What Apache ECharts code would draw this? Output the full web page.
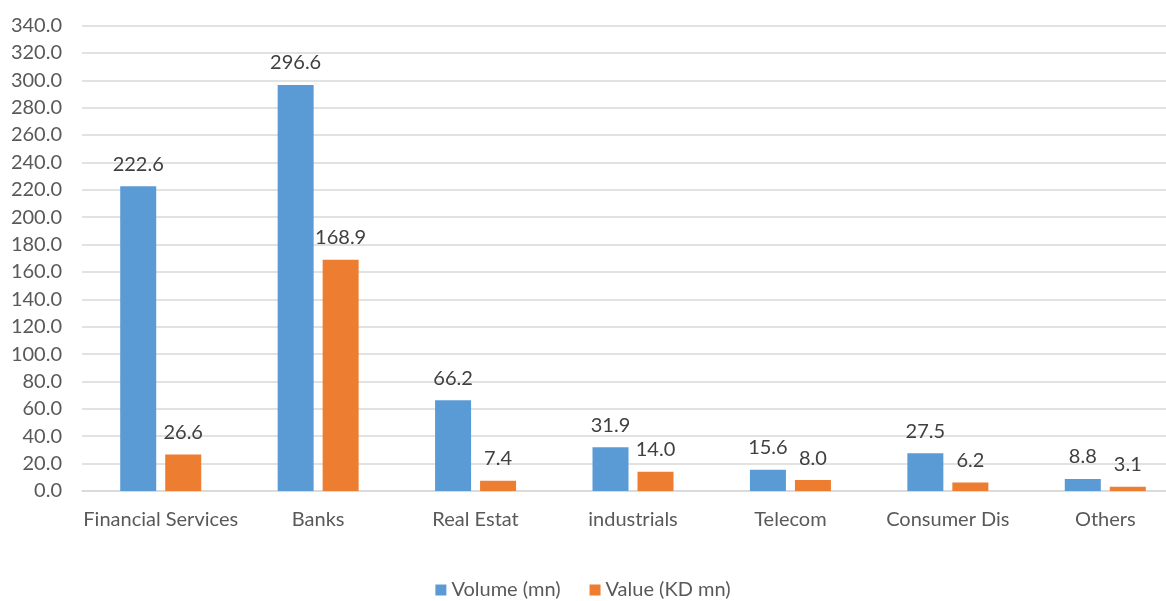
<!DOCTYPE html>
<html><head><meta charset="utf-8">
<script src="https://cdn.jsdelivr.net/npm/echarts@6/dist/echarts.min.js"></script>
<style>html,body{margin:0;padding:0;background:#fff;}#c{width:1166px;height:601px;}</style>
</head><body><div id="c"></div>
<script>
const categories = ["Financial Services","Banks","Real Estat","industrials","Telecom","Consumer Dis","Others"];
const volume = [222.6,296.6,66.2,31.9,15.6,27.5,8.8];
const value = [26.6,168.9,7.4,14.0,8.0,6.2,3.1];
const seriesNames = ["Volume (mn)","Value (KD mn)"];
const font = "Lato, 'Open Sans', sans-serif";
const fs = 20;
const chart = echarts.init(document.getElementById('c'));
const lbl = {show:true, position:'top', distance:12, color:'#404040', fontSize:fs, fontFamily:font, formatter: p => p.value.toFixed(1)};
chart.setOption({
  animation:false,
  textStyle:{fontFamily:font},
  grid:{left:82, width:1102, top:25.5, height:465.5, containLabel:false, outerBoundsMode:'none'},
  legend:{top:575, left:'center', itemWidth:11, itemHeight:11, itemGap:29, icon:'rect',
    textStyle:{color:'#595959', fontSize:fs, fontFamily:font}},
  xAxis:{type:'category', data:categories, axisTick:{show:false},
    axisLine:{lineStyle:{color:'#d9d9d9', width:1.5}},
    axisLabel:{color:'#595959', fontSize:fs, fontFamily:font, margin:19, interval:0}},
  yAxis:{type:'value', min:0, max:340, interval:20,
    axisLine:{show:false}, axisTick:{show:false},
    splitLine:{lineStyle:{color:'#d9d9d9', width:1.5}},
    axisLabel:{color:'#595959', fontSize:fs, fontFamily:font, margin:20, formatter:v=>v.toFixed(1)}},
  series:[
    {name:seriesNames[0], type:'bar', data:volume, barWidth:36, barGap:'25%', itemStyle:{color:'#5b9bd5'}, label:lbl},
    {name:seriesNames[1], type:'bar', data:value, barWidth:36, itemStyle:{color:'#ed7d31'}, label:lbl}
  ]
});
</script></body></html>
